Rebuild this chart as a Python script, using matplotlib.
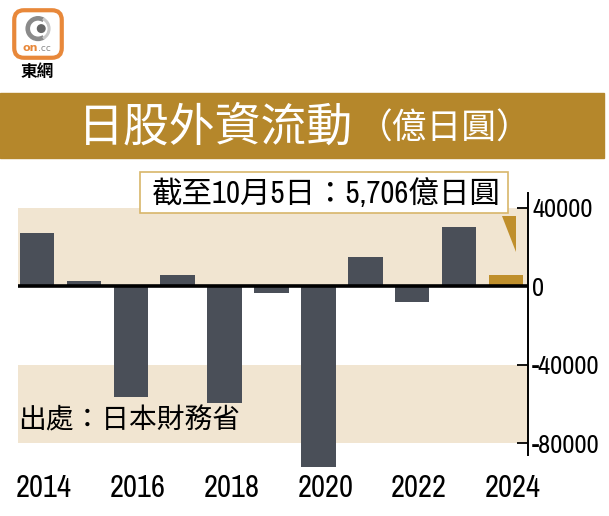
import matplotlib
matplotlib.use("Agg")
import matplotlib.pyplot as plt
from matplotlib import font_manager
from matplotlib.transforms import ScaledTranslation
from matplotlib.patches import Rectangle, Polygon, FancyBboxPatch, Circle, Wedge

years = [2014, 2015, 2016, 2017, 2018, 2019, 2020, 2021, 2022, 2023, 2024]
flows = [26900, 2800, -56500, 5600, -59600, -3600, -92200, 14900, -8200, 30100, 5706]
xticks = [2014, 2016, 2018, 2020, 2022, 2024]
yticks = [40000, 0, -40000, -80000]

title_main = "日股外資流動"
title_unit = "（億日圓）"
note = "截至10月5日：5,706億日圓"
source = "出處：日本財務省"

CJK = ["Noto Sans CJK TC", "DejaVu Sans"]

# the numbers in the reference use a narrow face; use one if it is installed
names = sorted({f.name for f in font_manager.fontManager.ttflist})
narrow = next((n for n in names if "Narrow" in n), None)
if narrow:
    NUM = [narrow, "Noto Sans CJK TC"]
    xsize, ysize, nsize = 22, 19, 22
else:
    NUM = ["Liberation Sans", "Noto Sans CJK TC"]
    xsize, ysize, nsize = 18, 15.5, 21

dark = "#4a4f58"
gold = "#bf8f2c"
band = "#f1e5d1"
banner = "#b5872b"

fig = plt.figure(figsize=(6.09, 5.16), dpi=100)

# title banner
fig.patches.append(Rectangle((0, 1 - 158 / 516), 604 / 609, 65 / 516,
                             transform=fig.transFigure, color=banner, zorder=0))
fig.text(78 / 609, 1 - 127 / 516, title_main, color="white", fontsize=33,
         family=CJK, va="center", ha="left")
fig.text(358 / 609, 1 - 129 / 516, title_unit, color="white", fontsize=25,
         family=CJK, va="center", ha="left")

# logo
lax = fig.add_axes([11 / 609, 1 - 61 / 516, 54 / 609, 54 / 516])
lax.set_xlim(0, 1)
lax.set_ylim(0, 1)
lax.axis("off")
lax.add_patch(FancyBboxPatch((0.06, 0.06), 0.88, 0.88, boxstyle="round,pad=0,rounding_size=0.18",
                             facecolor="white", edgecolor="#e8883a", lw=3))
lax.add_patch(Wedge((0.5, 0.6), 0.22, 60, 300, width=0.06, color="#8a8a8a"))
lax.add_patch(Wedge((0.5, 0.6), 0.22, 300, 60, width=0.03, color="#c8c8c8"))
lax.add_patch(Circle((0.56, 0.6), 0.07, color="#666666"))
lax.text(0.5, 0.24, "on", color="#e8883a", fontsize=8, fontweight="bold",
         ha="right", va="center", family="DejaVu Sans")
lax.text(0.5, 0.24, ".cc", color="#888888", fontsize=6.5,
         ha="left", va="center", family="DejaVu Sans")
fig.text(37 / 609, 1 - 72 / 516, "東網", fontsize=12, fontweight="bold",
         family=CJK, ha="center", va="center")

# main chart
ax = fig.add_axes([18 / 609, 1 - 470 / 516, 510 / 609, 277 / 516])
ax.set_xlim(2013.595, 2024.47)
ax.set_ylim(-93700, 47400)

ax.axhspan(0, 40000, color=band, zorder=0, lw=0)
ax.axhspan(-80000, -40000, color=band, zorder=0, lw=0)

colors = [dark] * (len(years) - 1) + [gold]
ax.bar(years, flows, width=0.735, color=colors, zorder=2)
ax.axhline(0, color="black", lw=2.6, zorder=3)

for s in ["left", "top", "bottom"]:
    ax.spines[s].set_visible(False)
ax.spines["right"].set_bounds(-86000, 47400)
ax.spines["right"].set_linewidth(1.4)

ax.yaxis.tick_right()
ax.set_yticks(yticks)
ax.set_yticklabels([str(v) for v in yticks], family=NUM, fontsize=ysize)
ax.tick_params(axis="y", direction="in", length=8, width=1.3, pad=3)

ax.set_xticks(xticks)
ax.set_xticklabels([str(v) for v in xticks], family=NUM, fontsize=xsize)
ax.tick_params(axis="x", length=0, pad=3)
shift = ScaledTranslation(7 / 100, 0, fig.dpi_scale_trans)
for lab in ax.get_xticklabels():
    lab.set_transform(lab.get_transform() + shift)

ax.text(0.0, -68300, source, family=CJK, fontsize=20, va="center", ha="left",
        transform=ax.get_yaxis_transform(), zorder=4)

# callout box and pointer
fig.patches.append(Rectangle((140 / 609, 1 - 213 / 516), 368 / 609, 41 / 516,
                             transform=fig.transFigure, facecolor="white",
                             edgecolor="#d8b66a", lw=1.2, zorder=5))
fig.text(326 / 609, 1 - 193 / 516, note, family=NUM, fontsize=nsize,
         ha="center", va="center", zorder=6)
lx = years[-1]
ax.add_patch(Polygon([(lx - 0.09, 35700), (lx + 0.21, 35700), (lx + 0.21, 17300)],
                     closed=True, color=gold, zorder=3, lw=0))

fig.savefig("out.png", dpi=100)
